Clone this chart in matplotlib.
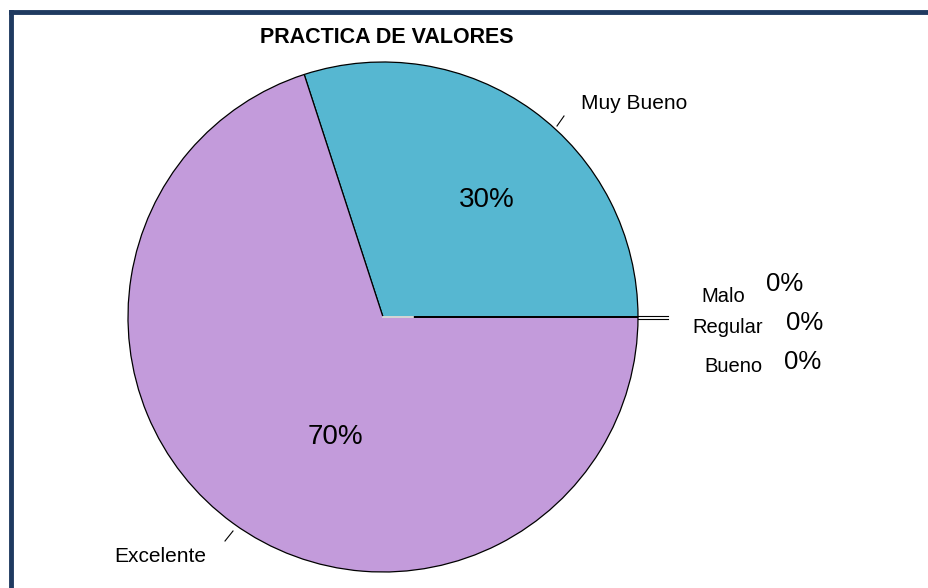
import matplotlib.pyplot as plt

plt.rcParams['font.family'] = ['Liberation Sans', 'DejaVu Sans']

title = "PRACTICA DE VALORES"
labels = ["Muy Bueno", "Excelente", "Bueno", "Regular", "Malo"]
values = [30, 70, 0, 0, 0]
colors = ["#56B7D1", "#C39BDB", "#FFFFFF", "#FFFFFF", "#FFFFFF"]

W, H = 929, 588
fig = plt.figure(figsize=(W / 100, H / 100), dpi=100)
ax = fig.add_axes([0, 0, 1, 1])

# pixel coords (y from top) -> data coords
def P(x, y):
    return x, H - y

cx, cy = P(383, 317)
wedges, _ = ax.pie(values, colors=colors, startangle=0, counterclock=True,
                   center=(cx, cy), radius=255, frame=True,
                   wedgeprops=dict(edgecolor="black", linewidth=0.9))
ax.set_xlim(0, W)
ax.set_ylim(0, H)
ax.axis("off")

total = sum(values)
pct = [f"{round(v * 100 / total)}%" for v in values]

# zero slices leader lines (double line at angle 0)
ax.plot([cx + 255, 668], [cy + 1.5, cy + 1.5], color="black", lw=0.8)
ax.plot([cx + 255, 668], [cy - 1.5, cy - 1.5], color="black", lw=0.8)
ax.plot([cx, cx + 30], [cy, cy], color="white", lw=1.2)

# leader ticks
ax.plot(*zip(P(557, 126), P(564, 116)), color="black", lw=0.8)
ax.plot(*zip(P(225, 541), P(233, 531)), color="black", lw=0.8)

ax.text(*P(387, 37), title, fontsize=15.5, fontweight="bold", ha="center", va="center")

ax.text(*P(634, 103), labels[0], fontsize=15, ha="center", va="center")
ax.text(*P(160, 557), labels[1], fontsize=15, ha="center", va="center")
ax.text(*P(487, 200), pct[0], fontsize=20, ha="center", va="center")
ax.text(*P(335, 437), pct[1], fontsize=20, ha="center", va="center")

zero_pos = {"Malo": ((723, 296), (785, 284)),
            "Regular": ((728, 327), (805, 323)),
            "Bueno": ((733, 367), (803, 362))}
for lab, p in zip(labels, pct):
    if lab in zero_pos:
        lp, pp = zero_pos[lab]
        ax.text(*P(*lp), lab, fontsize=14.5, ha="center", va="center")
        ax.text(*P(*pp), p, fontsize=18.5, ha="center", va="center")

# frame border (top and left only visible)
ax.plot([11, 11], [0, H - 12], color="#1F3A60", lw=3.5, solid_capstyle="projecting")
ax.plot([11, W], [H - 12, H - 12], color="#1F3A60", lw=3.5, solid_capstyle="projecting")

fig.savefig("out.png", dpi=100)
